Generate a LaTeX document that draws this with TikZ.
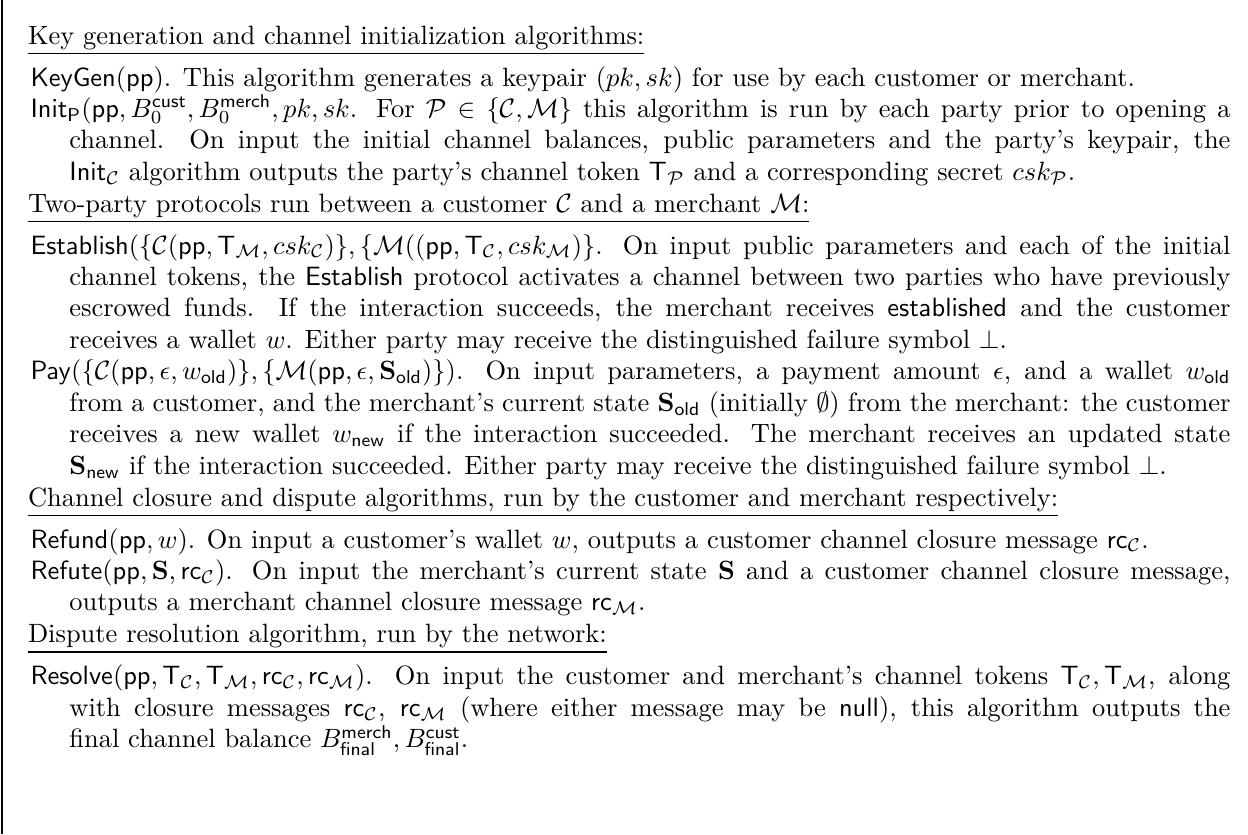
\documentclass[tikz,border=0pt]{standalone}
\usepackage{amsmath,amssymb}
\tikzset{
  itembox/.style={anchor=base west, inner sep=0pt, text width=453.5pt, align=justify,
    font=\fontsize{10}{11.87}\selectfont},
  headbox/.style={anchor=base west, inner sep=0pt, font=\fontsize{10}{11.87}\selectfont},
  frameline/.style={line width=0.75pt}
}
\newcommand{\itm}[1]{\hangindent=14.7pt\hangafter=1\relax #1\par}
\newcommand{\hd}[1]{$\underline{\hbox{#1}}$}
\begin{document}
\begin{tikzpicture}[x=0.37793pt,y=-0.37793pt]
\useasboundingbox (0,0) rectangle (1248,834);
\coordinate (ftop) at (2,0);
\coordinate (fbot) at (2,834);
\draw[frameline] (ftop) -- (fbot);

\node[headbox] (h1) at (27.5,44) {\hd{Key generation and channel initialization algorithms:}};
\node[itembox] (keygen) at (30,86) {\itm{$\mathsf{KeyGen}(\mathsf{pp})$. This algorithm generates a keypair $(pk, sk)$ for use by each customer or merchant.}};
\node[itembox] (init) at (30,117.4) {\itm{$\mathsf{Init}_{\mathsf{P}}(\mathsf{pp}, B_0^{\mathsf{cust}}, B_0^{\mathsf{merch}}, pk, sk$. For $\mathcal{P} \in \{\mathcal{C}, \mathcal{M}\}$ this algorithm is run by each party prior to opening a\linebreak channel. On input the initial channel balances, public parameters and the party's keypair, the\linebreak $\mathsf{Init}_{\mathcal{C}}$ algorithm outputs the party's channel token $\mathsf{T}_{\mathcal{P}}$ and a corresponding secret $csk_{\mathcal{P}}$.}};

\node[headbox] (h2) at (27.5,212) {\hd{Two-party protocols run between a customer $\mathcal{C}$ and a merchant $\mathcal{M}$:}};
\node[itembox] (establish) at (30,254) {\itm{$\mathsf{Establish}(\{\mathcal{C}(\mathsf{pp}, \mathsf{T}_{\mathcal{M}}, csk_{\mathcal{C}})\}, \{\mathcal{M}((\mathsf{pp}, \mathsf{T}_{\mathcal{C}}, csk_{\mathcal{M}})\}$. On input public parameters and each of the initial\linebreak channel tokens, the $\mathsf{Establish}$ protocol activates a channel between two parties who have previously\linebreak escrowed funds. If the interaction succeeds, the merchant receives $\mathsf{established}$ and the customer\linebreak receives a wallet $w$. Either party may receive the distinguished failure symbol $\bot$.}};
\node[itembox] (pay) at (30,379.8) {\itm{$\mathsf{Pay}(\{\mathcal{C}(\mathsf{pp}, \epsilon, w_{\mathsf{old}})\}, \{\mathcal{M}(\mathsf{pp}, \epsilon, \mathbf{S}_{\mathsf{old}})\})$. On input parameters, a payment amount $\epsilon$, and a wallet $w_{\mathsf{old}}$\linebreak from a customer, and the merchant's current state $\mathbf{S}_{\mathsf{old}}$ (initially $\emptyset$) from the merchant: the customer\linebreak receives a new wallet $w_{\mathsf{new}}$ if the interaction succeeded. The merchant receives an updated state\linebreak $\mathbf{S}_{\mathsf{new}}$ if the interaction succeeded. Either party may receive the distinguished failure symbol $\bot$.}};

\node[headbox] (h3) at (27.5,506) {\hd{Channel closure and dispute algorithms, run by the customer and merchant respectively:}};
\node[itembox] (refund) at (30,548) {\itm{$\mathsf{Refund}(\mathsf{pp}, w)$. On input a customer's wallet $w$, outputs a customer channel closure message $\mathsf{rc}_{\mathcal{C}}$.}};
\node[itembox] (refute) at (30,579.4) {\itm{$\mathsf{Refute}(\mathsf{pp}, \mathbf{S}, \mathsf{rc}_{\mathcal{C}})$. On input the merchant's current state $\mathbf{S}$ and a customer channel closure message,\linebreak outputs a merchant channel closure message $\mathsf{rc}_{\mathcal{M}}$.}};

\node[headbox] (h4) at (27.5,642.8) {\hd{Dispute resolution algorithm, run by the network:}};
\node[itembox] (resolve) at (30,684.8) {\itm{$\mathsf{Resolve}(\mathsf{pp}, \mathsf{T}_{\mathcal{C}}, \mathsf{T}_{\mathcal{M}}, \mathsf{rc}_{\mathcal{C}}, \mathsf{rc}_{\mathcal{M}})$. On input the customer and merchant's channel tokens $\mathsf{T}_{\mathcal{C}}, \mathsf{T}_{\mathcal{M}}$, along\linebreak with closure messages $\mathsf{rc}_{\mathcal{C}}$, $\mathsf{rc}_{\mathcal{M}}$ (where either message may be $\mathsf{null}$), this algorithm outputs the\linebreak final channel balance $B^{\mathsf{merch}}_{\mathsf{final}}, B^{\mathsf{cust}}_{\mathsf{final}}$.}};
\end{tikzpicture}
\end{document}
